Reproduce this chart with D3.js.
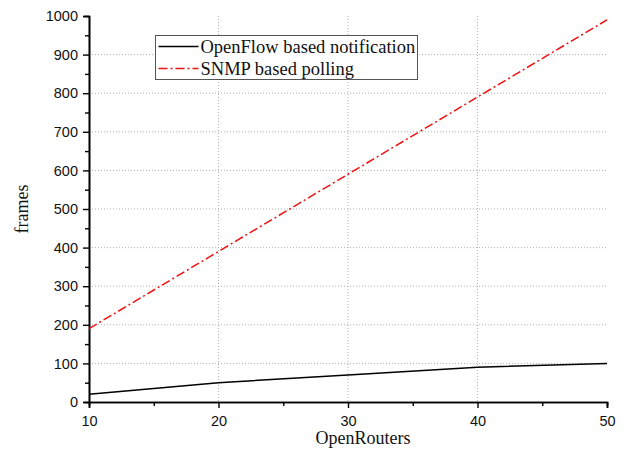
<!DOCTYPE html>
<html>
<head>
<meta charset="utf-8">
<script src="https://cdn.jsdelivr.net/npm/d3@7"></script>
<style>
body { margin: 0; background: #fff; }
</style>
</head>
<body>
<div class="chart-container"></div>
<script>
// Data
const routers = [10, 20, 30, 40, 50];
const openflow = [20, 50, 70, 90, 100];
const snmp = [190, 390, 590, 790, 990];
const seriesNames = ['OpenFlow based notification', 'SNMP based polling'];
const xTicks = [10, 20, 30, 40, 50];
const yTicks = [0, 100, 200, 300, 400, 500, 600, 700, 800, 900, 1000];

// Margin convention.
const W = 630, H = 463;
const margin = { top: 16, right: 23, bottom: 61, left: 89 };
const width = W - margin.left - margin.right;
const height = H - margin.top - margin.bottom;

const x = d3.scaleLinear().domain([10, 50]).range([0, width]);
const y = d3.scaleLinear().domain([0, 1000]).range([height, 0]);

const root = d3.select('.chart-container')
    .append('svg')
    .attr('width', W)
    .attr('height', H);

const svg = root.append('g')
    .attr('transform', `translate(${margin.left}, ${margin.top})`);

// Grid
svg.selectAll('.grid-h')
    .data(yTicks.filter(d => d > 0 && d < 1000))
    .enter()
    .append('line')
    .attr('x1', 0).attr('x2', width)
    .attr('y1', d => y(d)).attr('y2', d => y(d))
    .attr('stroke', '#b0b0b0')
    .attr('stroke-dasharray', '1,2');

svg.selectAll('.grid-v')
    .data(xTicks.filter(d => d > 10 && d < 50))
    .enter()
    .append('line')
    .attr('x1', d => x(d)).attr('x2', d => x(d))
    .attr('y1', 0).attr('y2', height)
    .attr('stroke', '#b0b0b0')
    .attr('stroke-dasharray', '1,2');

// Axes
const xAxis = d3.axisBottom(x).tickValues(xTicks).tickSize(6).tickPadding(8).tickFormat(d3.format('d'));
const yAxis = d3.axisLeft(y).tickValues(yTicks).tickSize(6).tickPadding(5).tickFormat(d3.format('d'));
const xMinor = d3.axisBottom(x).tickValues(d3.range(15, 50, 10)).tickSize(4).tickFormat('');
const yMinor = d3.axisLeft(y).tickValues(d3.range(50, 1000, 100)).tickSize(4).tickFormat('');

function styleAxis(g) {
    g.select('.domain').attr('stroke', '#000').attr('stroke-width', 1.6);
    g.selectAll('.tick line').attr('stroke', '#000').attr('stroke-width', 1.4);
    g.selectAll('.tick text')
        .attr('fill', '#111')
        .style('font-family', '"Liberation Sans", Arial, sans-serif')
        .style('font-size', '14.5px');
}

svg.append('g').attr('transform', `translate(0, ${height})`).call(xMinor).call(styleAxis);
svg.append('g').call(yMinor).call(styleAxis);
svg.append('g').attr('transform', `translate(0, ${height})`).call(xAxis).call(styleAxis);
svg.append('g').call(yAxis).call(styleAxis);

// Axis titles
svg.append('text')
    .attr('x', width / 2 + 15)
    .attr('y', height + 42)
    .attr('text-anchor', 'middle')
    .style('font-family', '"Liberation Serif", "Times New Roman", serif')
    .style('font-size', '18px')
    .attr('fill', '#111')
    .text('OpenRouters');

svg.append('text')
    .attr('transform', `translate(${-61}, ${height / 2}) rotate(-90)`)
    .attr('text-anchor', 'middle')
    .style('font-family', '"Liberation Serif", "Times New Roman", serif')
    .style('font-size', '18px')
    .attr('fill', '#111')
    .text('frames');

// Lines
const line = d3.line().x(d => x(d[0])).y(d => y(d[1]));

svg.append('path')
    .datum(d3.zip(routers, openflow))
    .attr('d', line)
    .attr('fill', 'none')
    .attr('stroke', '#000')
    .attr('stroke-width', 1.5);

svg.append('path')
    .datum(d3.zip(routers, snmp))
    .attr('d', line)
    .attr('fill', 'none')
    .attr('stroke', '#ee1111')
    .attr('stroke-width', 1.5)
    .attr('stroke-dasharray', '9,3,2,3');

// Legend
const legend = root.append('g').attr('transform', 'translate(155.5, 35.5)');
legend.append('rect')
    .attr('width', 262)
    .attr('height', 44)
    .attr('fill', '#fff')
    .attr('stroke', '#555')
    .attr('stroke-width', 1);

const styles = [
    { stroke: '#000', dash: null },
    { stroke: '#ee1111', dash: '9,3,2,3' }
];

legend.selectAll('.legend-item')
    .data(seriesNames)
    .enter()
    .append('g')
    .attr('transform', (d, i) => `translate(0, ${11 + i * 22})`)
    .each(function (d, i) {
        const g = d3.select(this);
        g.append('line')
            .attr('x1', 3).attr('x2', 43)
            .attr('y1', 0).attr('y2', 0)
            .attr('stroke', styles[i].stroke)
            .attr('stroke-width', 1.5)
            .attr('stroke-dasharray', styles[i].dash);
        g.append('text')
            .attr('x', 45)
            .attr('y', 6)
            .style('font-family', '"Liberation Serif", "Times New Roman", serif')
            .style('font-size', '18.5px')
            .attr('fill', '#111')
            .text(d);
    });
</script>
</body>
</html>
